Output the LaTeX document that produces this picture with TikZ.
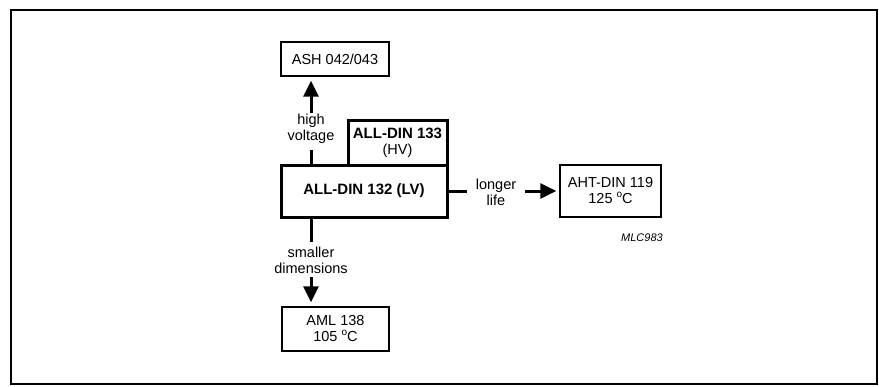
\documentclass[tikz,border=0pt]{standalone}
\usepackage{fontspec}
\setmainfont{Liberation Sans}
\usetikzlibrary{arrows.meta}
\newcommand{\degsup}{\raisebox{0.85ex}{\fontsize{10}{10}\selectfont o}}
\begin{document}
\begin{tikzpicture}[x=1pt,y=-1pt,
  every node/.style={font=\fontsize{14.5}{16}\selectfont, align=center, inner sep=0pt},
  box/.style={draw, line width=1.3pt},
  heavybox/.style={draw, line width=3pt},
  conn/.style={line width=3pt},
  arr/.style={line width=3pt, -{Triangle[length=16pt,width=15pt]}}]
\useasboundingbox (0,0) rectangle (879,386);
\draw[line width=1.5pt] (11,10) rectangle (877,384);

\node[box, minimum width=108pt, minimum height=34pt] (ash) at (335,59) {ASH 042/043};
\node[heavybox, minimum width=99pt, minimum height=45pt] (hv) at (397.5,142.5) {{\fontsize{15}{16}\selectfont\bfseries ALL-DIN 133}\\(HV)};
\node[heavybox, minimum width=166pt, minimum height=52pt, font=\fontsize{15}{16}\selectfont\bfseries] (main) at (364,191) {ALL-DIN 132 (LV)};
\node[box, minimum width=107pt, minimum height=44pt] (aml) at (335.5,329) {AML 138\\105 \degsup C};
\node[box, minimum width=101pt, minimum height=52pt] (aht) at (610.5,191) {AHT-DIN 119\\125 \degsup C};
\node[font=\fontsize{11}{13}\selectfont\itshape] (mlc) at (642,238) {MLC983};

\node (lhv) at (311,129) {high\\voltage};
\node (lsd) at (311,260) {smaller\\dimensions};
\node (lll) at (496,192) {longer\\life};

\coordinate (hvA) at (311,150);
\coordinate (hvB) at (311,113);
\coordinate (sdA) at (311,242);
\coordinate (sdB) at (311,277);
\coordinate (llA) at (467,191);
\coordinate (llB) at (525,191);

\draw[conn] (lhv |- main.north) -- (hvA);
\draw[arr, shorten >=4pt] (hvB) -- (lhv |- ash.south);
\draw[conn] (lsd |- main.south) -- (sdA);
\draw[arr, shorten >=4pt] (sdB) -- (lsd |- aml.north);
\draw[conn] (main.east) -- (llA);
\draw[arr, shorten >=3pt] (llB) -- (aht.west);
\end{tikzpicture}
\end{document}
